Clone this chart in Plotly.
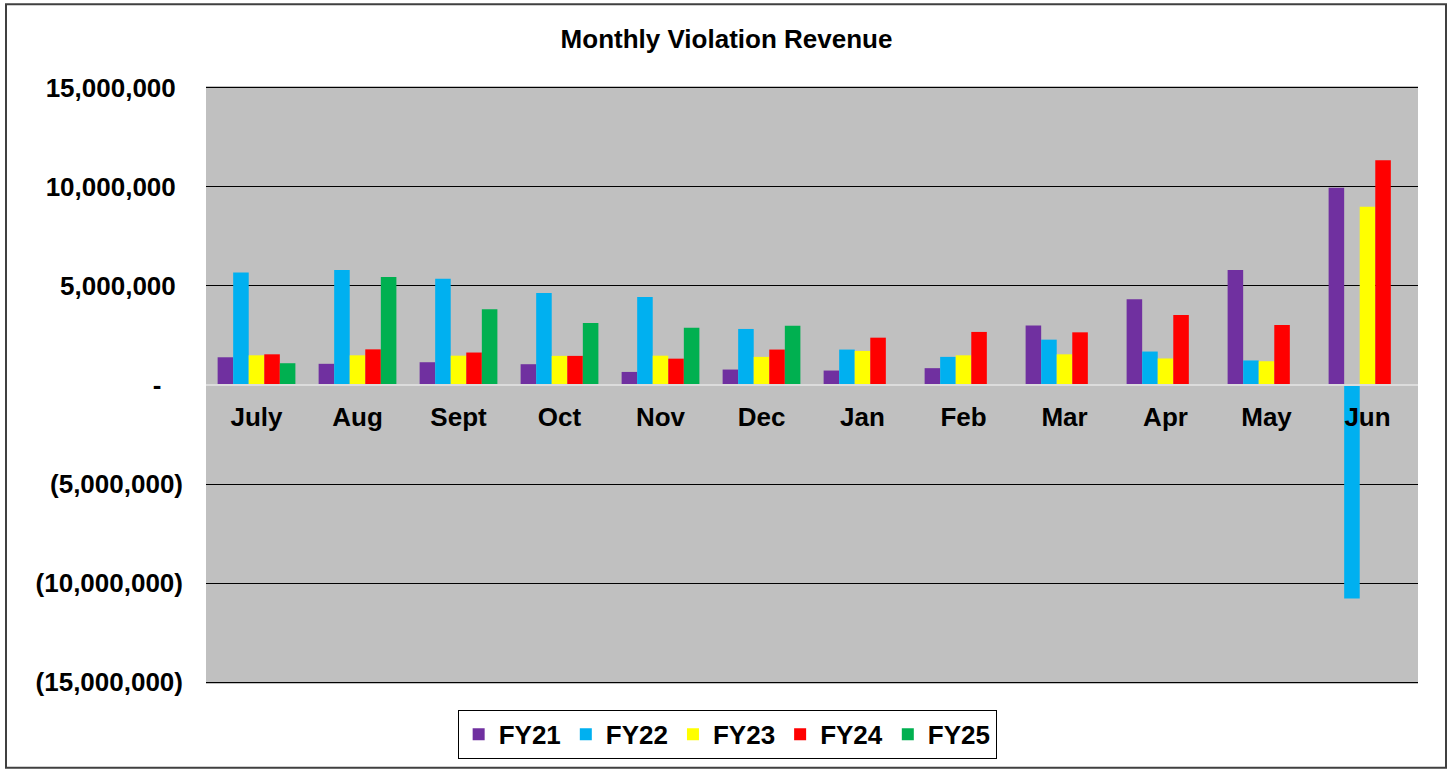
import plotly.graph_objects as go

months = ["July", "Aug", "Sept", "Oct", "Nov", "Dec", "Jan", "Feb", "Mar", "Apr", "May", "Jun"]
fy21 = [1400000, 1070000, 1150000, 1050000, 660000, 780000, 730000, 850000, 3000000, 4330000, 5810000, 9960000]
fy22 = [5680000, 5810000, 5360000, 4640000, 4450000, 2830000, 1790000, 1420000, 2290000, 1690000, 1240000, -10780000]
fy23 = [1500000, 1500000, 1480000, 1470000, 1480000, 1420000, 1720000, 1500000, 1550000, 1340000, 1200000, 9000000]
fy24 = [1550000, 1800000, 1640000, 1470000, 1330000, 1790000, 2390000, 2680000, 2660000, 3530000, 3030000, 11350000]
fy25 = [1100000, 5460000, 3830000, 3130000, 2890000, 2990000, None, None, None, None, None, None]

series = [("FY21", fy21, "#7030A0"), ("FY22", fy22, "#00B0F0"), ("FY23", fy23, "#FFFF00"),
          ("FY24", fy24, "#FF0000"), ("FY25", fy25, "#00B050")]

tick_vals = [15000000, 10000000, 5000000, 0, -5000000, -10000000, -15000000]
tick_text = ["15,000,000\u00a0", "10,000,000\u00a0", "5,000,000\u00a0", "-\u00a0\u00a0\u00a0",
             "(5,000,000)", "(10,000,000)", "(15,000,000)"]

FONT = "Arial, Liberation Sans, sans-serif"

fig = go.Figure()
for name, vals, color in series:
    fig.add_trace(go.Bar(x=months, y=vals, name=name, marker=dict(color=color, line=dict(width=0))))

H = 771
T, B = 86, 85
PH = H - T - B  # plot height in px

def py(pix):
    """convert a page y pixel to paper fraction"""
    return (H - B - pix) / PH

fig.update_layout(
    width=1453, height=H,
    margin=dict(l=206, r=35, t=T, b=B),
    paper_bgcolor="white", plot_bgcolor="#C0C0C0",
    barmode="group", bargap=0.23, bargroupgap=0,
    font=dict(family=FONT, size=26, color="black", weight="bold"),
    title=dict(text="Monthly Violation Revenue", x=0.5, xref="container", xanchor="center",
               y=1 - 39 / H, yref="container", yanchor="middle",
               font=dict(family=FONT, size=26, color="black", weight="bold")),
    showlegend=True,
    legend=dict(orientation="h", x=0.43, xanchor="center", y=py(712), yanchor="top",
                bgcolor="white", bordercolor="black", borderwidth=1,
                font=dict(family=FONT, size=26, color="black", weight="bold"),
                itemsizing="constant"),
    xaxis=dict(anchor="free", position=0.5, showline=True, linecolor="#DCDCDC", linewidth=2,
               ticks="", ticklabelstandoff=9, showgrid=False, zeroline=False,
               tickfont=dict(family=FONT, size=26, color="black", weight="bold")),
    yaxis=dict(range=[-15100000, 15100000], tickvals=tick_vals, ticktext=tick_text,
               showgrid=True, gridcolor="black", gridwidth=1, zeroline=False,
               ticks="", ticklabelstandoff=22, showline=False,
               tickfont=dict(family=FONT, size=26, color="black", weight="bold")),
    shapes=[dict(type="rect", xref="paper", yref="paper",
                 x0=(6 - 206) / 1212, x1=(1446 - 206) / 1212,
                 y0=py(770), y1=py(4),
                 line=dict(color="#404040", width=2), fillcolor="rgba(0,0,0,0)", layer="above")],
)

fig.write_html("out.html", config={"displayModeBar": False},
               post_script="document.body.style.margin='0';")
